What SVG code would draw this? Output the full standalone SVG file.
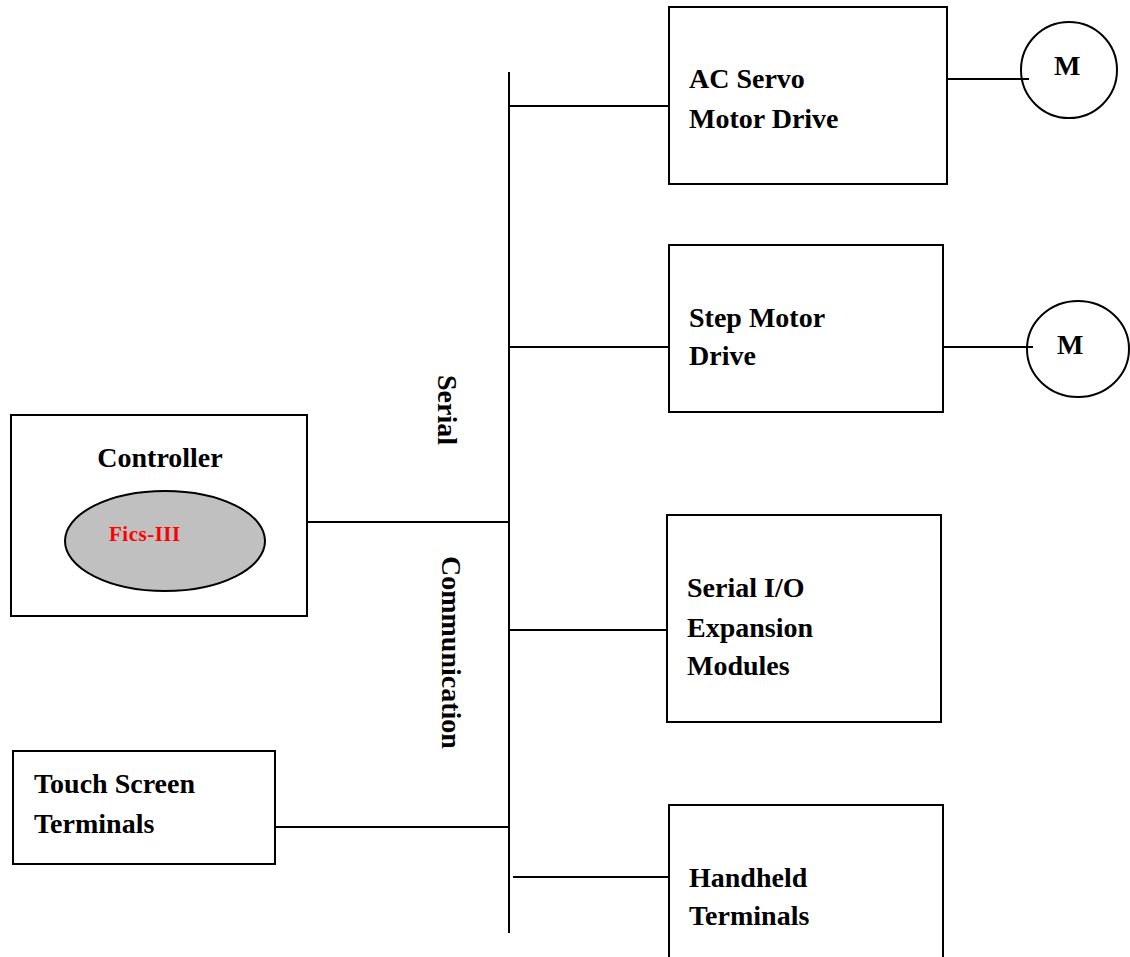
<svg xmlns="http://www.w3.org/2000/svg" width="1130" height="957" viewBox="0 0 1130 957">
<style>
.box{fill:#fff;stroke:#000;stroke-width:2}
.ln{stroke:#000;stroke-width:2;fill:none}
.t{font-family:"Liberation Serif","Times New Roman",serif;font-weight:bold;font-size:28px;fill:#000}
</style>
<rect width="1130" height="957" fill="#fff"/>
<g id="connectors">
<line class="ln" x1="509" y1="72" x2="509" y2="933"/>
<line class="ln" x1="509" y1="106" x2="669" y2="106"/>
<line class="ln" x1="947" y1="79" x2="1029" y2="79"/>
<line class="ln" x1="509" y1="347" x2="669" y2="347"/>
<line class="ln" x1="943" y1="347" x2="1033" y2="347"/>
<line class="ln" x1="305" y1="522" x2="509" y2="522"/>
<line class="ln" x1="509" y1="630" x2="669" y2="630"/>
<line class="ln" x1="273" y1="827" x2="509" y2="827"/>
<line class="ln" x1="513" y1="877" x2="669" y2="877"/>
</g>
<g id="bus-label">
<text class="t" transform="translate(438,375) rotate(90)">Serial</text>
<text class="t" transform="translate(442,556) rotate(90)">Communication</text>
</g>
<g id="ac-servo">
<rect class="box" x="669" y="7" width="278" height="177"/>
<text class="t" x="689" y="88">AC Servo</text>
<text class="t" x="689" y="128">Motor Drive</text>
</g>
<g id="motor1">
<ellipse class="ln" cx="1069" cy="70" rx="48" ry="48"/>
<text class="t" x="1054" y="75">M</text>
</g>
<g id="step-motor">
<rect class="box" x="669" y="245" width="274" height="167"/>
<text class="t" x="689" y="327">Step Motor</text>
<text class="t" x="689" y="365">Drive</text>
</g>
<g id="motor2">
<ellipse class="ln" cx="1078" cy="349" rx="51" ry="48"/>
<text class="t" x="1057" y="354">M</text>
</g>
<g id="controller">
<rect class="box" x="11" y="415" width="296" height="201"/>
<text class="t" x="160" y="467" text-anchor="middle">Controller</text>
<ellipse cx="165" cy="541" rx="100" ry="50" fill="#c0c0c0" stroke="#000" stroke-width="2"/>
<text x="109" y="541" font-family="Liberation Serif, serif" font-weight="bold" font-size="21" letter-spacing="0.5" fill="#ff0000">Fics-III</text>
</g>
<g id="serial-io">
<rect class="box" x="667" y="515" width="274" height="207"/>
<text class="t" x="687" y="597">Serial I/O</text>
<text class="t" x="687" y="637">Expansion</text>
<text class="t" x="687" y="675">Modules</text>
</g>
<g id="touch-screen">
<rect class="box" x="13" y="751" width="262" height="113"/>
<text class="t" x="34" y="793">Touch Screen</text>
<text class="t" x="34" y="833">Terminals</text>
</g>
<g id="handheld">
<rect class="box" x="669" y="805" width="274" height="160"/>
<text class="t" x="689" y="887">Handheld</text>
<text class="t" x="689" y="925">Terminals</text>
</g>
</svg>
